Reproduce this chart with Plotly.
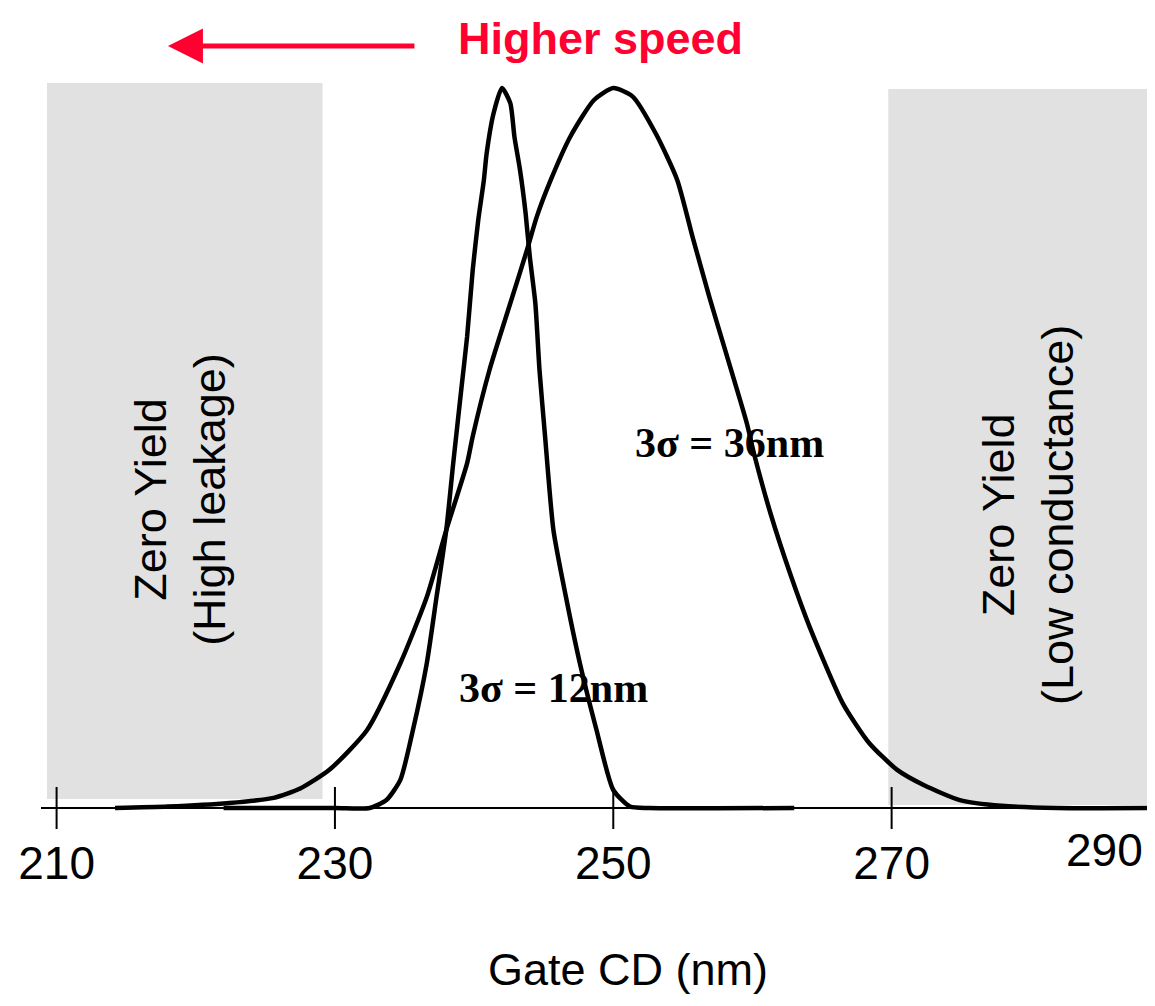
import plotly.graph_objects as go

# ---- data ----
tick_values = [210, 230, 250, 270, 290]
tick_labels = ["210", "230", "250", "270", "290"]

narrow_x = [222.0, 230.0, 232.5, 233.7, 234.7, 235.6, 236.6, 237.3, 238.0, 238.5,
            239.1, 239.5, 239.9, 240.3, 240.7, 240.9, 241.4, 242.0, 242.6, 242.9,
            243.3, 243.7, 244.0, 244.4, 244.7, 245.1, 245.7, 246.6, 247.6, 248.8,
            250.0, 251.2, 252.6, 263.0]
narrow_y = [0.0, 0.0, 0.0, 0.011, 0.039, 0.108, 0.201, 0.293, 0.386, 0.479,
            0.585, 0.655, 0.747, 0.817, 0.872, 0.909, 0.965, 1.0, 0.979, 0.932,
            0.886, 0.826, 0.766, 0.701, 0.608, 0.516, 0.386, 0.293, 0.201, 0.108,
            0.025, 0.002, 0.0, 0.0]

wide_x = [214.2, 218.0, 222.4, 225.6, 227.5, 229.6, 232.3, 234.7, 236.6, 238.0,
          239.5, 239.9, 241.1, 242.6, 243.8, 244.5, 245.5, 246.9, 248.6, 250.0,
          251.4, 253.1, 254.6, 255.7, 256.9, 258.1, 259.6, 260.1, 261.3, 262.7,
          264.1, 266.5, 268.4, 270.4, 272.3, 274.9, 277.9, 281.9, 288.9]
wide_y = [0.0, 0.002, 0.007, 0.014, 0.027, 0.053, 0.108, 0.201, 0.293, 0.386,
          0.479, 0.516, 0.608, 0.701, 0.775, 0.821, 0.872, 0.932, 0.983, 1.0,
          0.988, 0.935, 0.872, 0.793, 0.710, 0.632, 0.534, 0.493, 0.409, 0.326,
          0.252, 0.145, 0.090, 0.053, 0.032, 0.011, 0.003, 0.0, 0.0]

label_narrow = "3σ = 12nm"
label_wide = "3σ = 36nm"
zone_left = "Zero Yield<br>(High leakage)"
zone_right = "Zero Yield<br>(Low conductance)"
speed_label = "Higher speed"
x_title = "Gate CD (nm)"

# ---- figure ----
SANS = "Liberation Sans, Arial, sans-serif"
SERIF = "Liberation Serif, Times New Roman, serif"
RED = "#FF0030"
GRAY = "#E1E1E1"

x_lo, x_hi = 208.88, 288.35
shown_ticks = [v for v in tick_values if x_lo <= v <= x_hi]
shown_text = [t for v, t in zip(tick_values, tick_labels) if x_lo <= v <= x_hi]

fig = go.Figure()

fig.add_trace(go.Scatter(x=wide_x, y=wide_y, mode="lines",
                         line=dict(color="black", width=4.5, shape="spline", smoothing=0.6),
                         hoverinfo="skip", showlegend=False))
fig.add_trace(go.Scatter(x=narrow_x, y=narrow_y, mode="lines",
                         line=dict(color="black", width=4.5, shape="spline", smoothing=0.6),
                         hoverinfo="skip", showlegend=False))
# tick marks crossing the axis
fig.add_trace(go.Scatter(x=shown_ticks, y=[0] * len(shown_ticks), mode="markers",
                         marker=dict(symbol="line-ns", size=30,
                                     line=dict(color="black", width=2)),
                         cliponaxis=False, hoverinfo="skip", showlegend=False))

shapes = [
    dict(type="rect", xref="x", yref="y", x0=209.31, x1=229.11, y0=0.0125, y1=1.0069,
         fillcolor=GRAY, line=dict(width=0), layer="below"),
    dict(type="rect", xref="x", yref="y", x0=269.76, x1=292.0, y0=0.004, y1=0.9986,
         fillcolor=GRAY, line=dict(width=0), layer="below"),
]

annotations = [
    dict(x=218.87, y=0.428, xref="x", yref="y", text=zone_left, textangle=-90,
         showarrow=False, font=dict(family=SANS, size=45, color="black"),
         xanchor="center", yanchor="middle"),
    dict(x=279.80, y=0.407, xref="x", yref="y", text=zone_right, textangle=-90,
         showarrow=False, font=dict(family=SANS, size=45, color="black"),
         xanchor="center", yanchor="middle"),
    dict(x=258.38, y=0.507, xref="x", yref="y", text="<b>" + label_wide + "</b>",
         showarrow=False, font=dict(family=SERIF, size=42, color="black"),
         xanchor="center", yanchor="middle"),
    dict(x=245.74, y=0.167, xref="x", yref="y", text="<b>" + label_narrow + "</b>",
         showarrow=False, font=dict(family=SERIF, size=42, color="black"),
         xanchor="center", yanchor="middle"),
    dict(x=249.05, y=1.0694, xref="x", yref="y", text="<b>" + speed_label + "</b>",
         showarrow=False, font=dict(family=SANS, size=45, color=RED),
         xanchor="center", yanchor="middle", borderpad=0),
    dict(x=218.0, y=1.0583, xref="x", yref="y", ax=235.82, ay=1.0583,
         axref="x", ayref="y", text="", showarrow=True, arrowhead=2,
         arrowsize=1.4, arrowwidth=5, arrowcolor=RED),
    dict(x=285.26, y=-0.0415, xref="x", yref="paper", text=tick_labels[-1],
         showarrow=False, font=dict(family=SANS, size=46, color="black"),
         xanchor="center", yanchor="middle"),
    dict(x=0.5307, y=-0.1894, xref="paper", yref="paper", text=x_title,
         showarrow=False, font=dict(family=SANS, size=45, color="black"),
         xanchor="center", yanchor="middle", borderpad=0),
]

# the page body has an 8px margin; the figure fills the remaining width
fig.update_layout(
    width=1139, height=990,
    margin=dict(l=33, r=0, t=0, b=182, pad=0),
    paper_bgcolor="white", plot_bgcolor="white",
    showlegend=False,
    shapes=shapes, annotations=annotations,
    xaxis=dict(range=[x_lo, x_hi], tickmode="array", tickvals=shown_ticks,
               ticktext=shown_text, ticks="outside", ticklen=7,
               tickcolor="rgba(0,0,0,0)",
               tickfont=dict(family=SANS, size=46, color="black"),
               showgrid=False, zeroline=False, showline=False, fixedrange=True),
    yaxis=dict(range=[-0.011111, 1.111111], showticklabels=False, ticks="",
               showgrid=False, zeroline=True, zerolinecolor="black",
               zerolinewidth=2, showline=False, fixedrange=True),
)

fig.write_html("out.html")
